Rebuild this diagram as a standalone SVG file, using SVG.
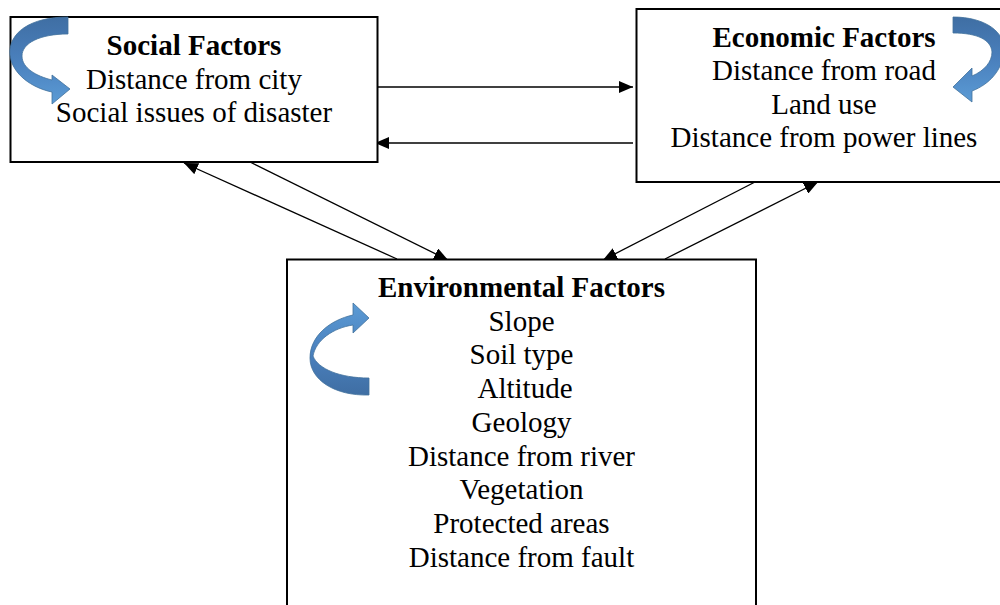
<svg xmlns="http://www.w3.org/2000/svg" width="1000" height="605" viewBox="0 0 1000 605">
<style>
.box{fill:#fff;stroke:#000;stroke-width:2}
.t{font-family:"Liberation Serif","Times New Roman",serif;font-size:29px;fill:#000;text-anchor:middle}
.b{font-weight:bold}
.c{stroke:#000;stroke-width:1.3;fill:none;marker-end:url(#ah)}
.ca{stroke:#41719C;stroke-width:0.8}
</style>
<defs>
<marker id="ah" viewBox="0 0 14 12" refX="14" refY="6" markerWidth="14" markerHeight="12" markerUnits="userSpaceOnUse" orient="auto">
<path d="M0,0 L14,6 L0,12 Z" fill="#000"/>
</marker>
<linearGradient id="gDown" x1="0" y1="0" x2="0" y2="1">
<stop offset="0" stop-color="#3F6EA3"/>
<stop offset="0.5" stop-color="#4A80BD"/>
<stop offset="1" stop-color="#5B9BD5"/>
</linearGradient>
<linearGradient id="gUp" x1="0" y1="1" x2="0" y2="0">
<stop offset="0" stop-color="#3F6EA3"/>
<stop offset="0.45" stop-color="#4A80BD"/>
<stop offset="1" stop-color="#5B9BD5"/>
</linearGradient>
</defs>
<g id="connectors">
<line class="c" x1="374" y1="87" x2="633" y2="87"/>
<line class="c" x1="633" y1="143" x2="375" y2="143"/>
<line class="c" x1="397" y1="259" x2="184" y2="163"/>
<line class="c" x1="250" y1="162" x2="448" y2="260"/>
<line class="c" x1="755" y1="182" x2="603" y2="260"/>
<line class="c" x1="665" y1="259" x2="818" y2="182"/>
</g>
<g id="social">
<rect class="box" x="10.5" y="17" width="367" height="145"/>
<path class="ca" fill="url(#gDown)" d="M68 17 C30 17 8 33 10 55 C12 74 32 88 52 92 L52 104 L70 89 L52 75 L52 80 C36 76 22 68 22 56 C22 43 40 34 68 34 Z"/>
<text class="t b" x="194" y="55">Social Factors</text>
<text class="t" x="194" y="88.5">Distance from city</text>
<text class="t" x="194" y="122">Social issues of disaster</text>
</g>
<g id="economic">
<rect class="box" x="636.5" y="9" width="370" height="173"/>
<path class="ca" fill="url(#gDown)" d="M953 17 C985 17 1006 32 1004 52 C1002 70 990 84 972 91 L972 102 L953 87 L972 68 L972 76 C984 71 992 62 992 52 C991 40 978 33 953 33 Z"/>
<text class="t b" x="824" y="47">Economic Factors</text>
<text class="t" x="824" y="80">Distance from road</text>
<text class="t" x="824" y="113.5">Land use</text>
<text class="t" x="824" y="147">Distance from power lines</text>
</g>
<g id="environmental">
<rect class="box" x="287" y="259.5" width="469" height="360"/>
<path class="ca" fill="url(#gUp)" d="M369 395 C335 396 310 380 310 358 C310 336 330 320 353 315 L353 303 L369 318 L353 333 L353 325 C333 328 316 340 313 356 C318 369 340 378 369 378 Z"/>
<text class="t b" x="521.5" y="297">Environmental Factors</text>
<text class="t" x="521.5" y="330.7">Slope</text>
<text class="t" x="521.5" y="364.4">Soil type</text>
<text class="t" x="525" y="398.1">Altitude</text>
<text class="t" x="521.5" y="431.8">Geology</text>
<text class="t" x="521.5" y="465.5">Distance from river</text>
<text class="t" x="521.5" y="499.2">Vegetation</text>
<text class="t" x="521.5" y="532.9">Protected areas</text>
<text class="t" x="521.5" y="566.6">Distance from fault</text>
</g>
</svg>
